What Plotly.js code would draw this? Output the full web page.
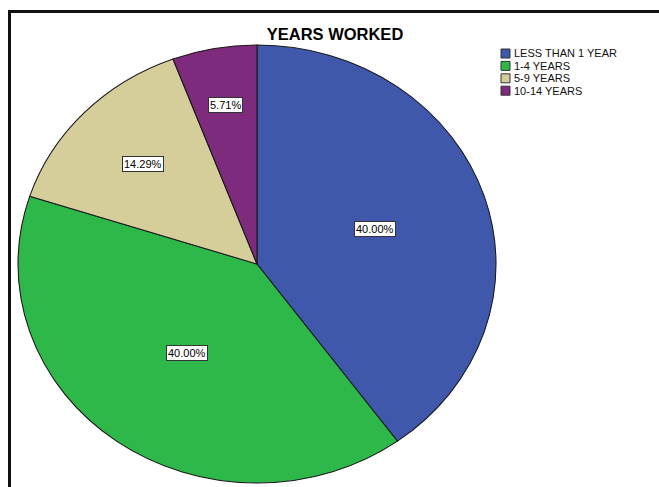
<!DOCTYPE html>
<html>
<head>
<meta charset="utf-8">
<script src="https://cdn.plot.ly/plotly-3.0.1.min.js"></script>
<style>
html,body{margin:0;padding:0;background:#fff;}
#chart{width:659px;height:487px;}
</style>
</head>
<body>
<div id="chart"></div>
<script>
// ---- data ----
var categories = ["LESS THAN 1 YEAR", "1-4 YEARS", "5-9 YEARS", "10-14 YEARS"];
var counts = [14, 14, 5, 2];
var sliceColors = ["#3F58AB", "#2EB84A", "#D5CE9B", "#7E2A7D"];
var chartTitle = "YEARS WORKED";

// ---- layout config (pixels) ----
var W = 659, H = 487;
var cx = 257, cy = 264, rx = 239, ry = 219;
var labelRadius = [0.52, 0.5, 0.66, 0.74];
var legendX = 501, legendY0 = 53.5, legendStep = 12.4, sw = 9;

function px(x){ return x / W; }
function py(y){ return 1 - y / H; }

var total = counts.reduce(function(a,b){return a+b;}, 0);
var annotations = [];
var shapes = [];

// slice percentage labels, positioned from data (mid-angle of each slice)
var cum = 0;
counts.forEach(function(v, i){
  var mid = (cum + v / 2) / total * 2 * Math.PI;
  cum += v;
  var f = labelRadius[i];
  var x = cx + f * rx * Math.sin(mid);
  var y = cy - f * ry * Math.cos(mid);
  annotations.push({
    xref: 'paper', yref: 'paper', x: px(x), y: py(y),
    xanchor: 'center', yanchor: 'middle', showarrow: false,
    text: (v / total * 100).toFixed(2) + '%',
    font: {family: 'Liberation Sans, Arial, sans-serif', size: 11, color: '#000'},
    bgcolor: '#ffffff', bordercolor: '#333333', borderwidth: 1, borderpad: 1
  });
});

// custom legend
categories.forEach(function(c, i){
  var yc = legendY0 + i * legendStep;
  shapes.push({
    type: 'rect', xref: 'paper', yref: 'paper',
    x0: px(legendX), x1: px(legendX + sw), y0: py(yc - sw/2), y1: py(yc + sw/2),
    fillcolor: sliceColors[i], line: {color: '#333', width: 1}
  });
  annotations.push({
    xref: 'paper', yref: 'paper', x: px(legendX + sw + 2), y: py(yc),
    xanchor: 'left', yanchor: 'middle', showarrow: false, text: c,
    font: {family: 'Liberation Sans, Arial, sans-serif', size: 11, color: '#111'}
  });
});

// outer frame (left and top edges)
shapes.push({
  type: 'path', xref: 'paper', yref: 'paper',
  path: 'M ' + px(9.5) + ' ' + py(500) + ' L ' + px(9.5) + ' ' + py(11.5) + ' L ' + px(680) + ' ' + py(11.5),
  line: {color: '#111', width: 3}
});

var trace = {
  type: 'pie',
  labels: categories,
  values: counts,
  sort: false,
  direction: 'clockwise',
  rotation: 0,
  textinfo: 'none',
  hoverinfo: 'none',
  showlegend: false,
  marker: {colors: sliceColors, line: {color: '#1a1a1a', width: 1}},
  domain: {x: [px(cx - ry), px(cx + ry)], y: [py(cy + ry), py(cy - ry)]}
};

var layout = {
  width: W, height: H,
  margin: {l: 0, r: 0, t: 0, b: 0},
  paper_bgcolor: '#fff',
  showlegend: false,
  title: {
    text: chartTitle, x: px(335), y: py(34), xanchor: 'center', yanchor: 'middle',
    xref: 'paper', yref: 'paper',
    font: {family: 'Liberation Sans, Arial, sans-serif', size: 16.5, weight: 'bold', color: '#000'}
  },
  annotations: annotations,
  shapes: shapes
};

Plotly.newPlot('chart', [trace], layout, {staticPlot: true}).then(function(){
  // stretch pie horizontally into the ellipse of the reference
  var pl = document.querySelector('.pielayer');
  if (pl) {
    var k = rx / ry;
    pl.setAttribute('transform', 'translate(' + cx + ',0) scale(' + k + ',1) translate(' + (-cx) + ',0)');
  }
});
</script>
</body>
</html>
